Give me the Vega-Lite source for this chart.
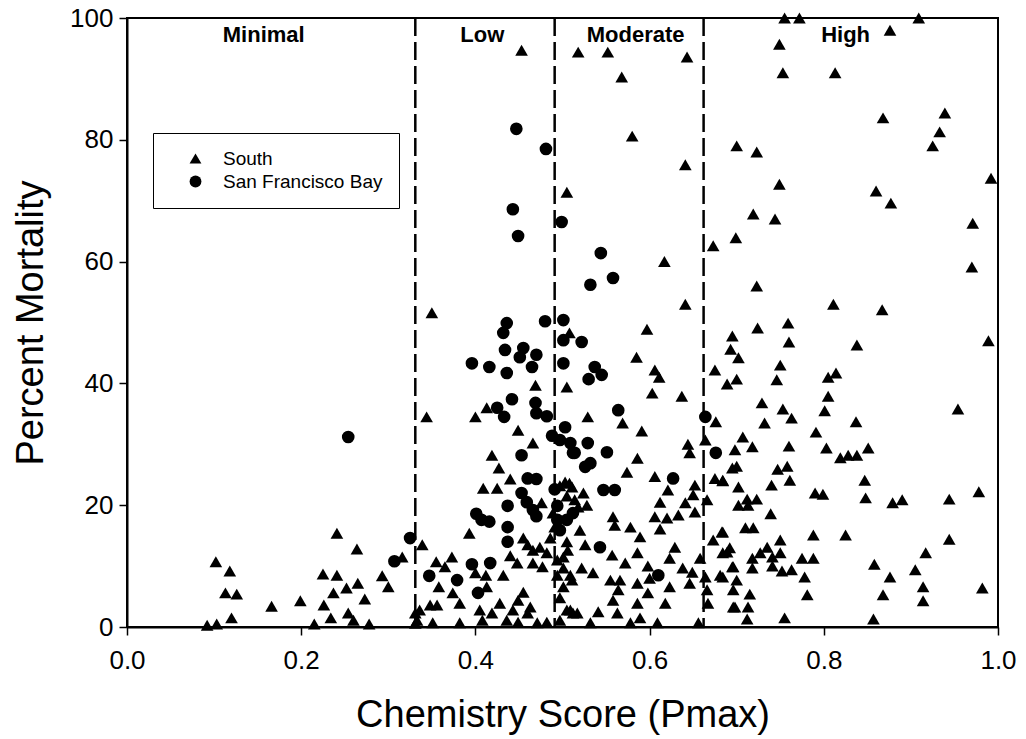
{
"$schema": "https://vega.github.io/schema/vega-lite/v6.json",
"width": 871, "height": 609,
"autosize": {"type": "none"},
"padding": {"left": 127, "top": 18, "right": 28, "bottom": 112},
"background": "white",
"config": {
 "view": {"stroke": "black", "strokeWidth": 2},
 "font": "Liberation Sans",
 "axis": {"grid": false, "domainColor": "black", "domainWidth": 2, "tickColor": "black", "tickWidth": 1.5, "tickSize": 8, "labelFlush": false,
  "labelColor": "black", "titleColor": "black", "labelFontSize": 26, "titleFontSize": 38, "titleFontWeight": "normal",
  "labelFont": "Liberation Sans", "titleFont": "Liberation Sans"},
 "axisX": {"labelPadding": 12, "titlePadding": 23},
 "axisY": {"labelPadding": 6, "titlePadding": 19}
},
"datasets": {
 "cuts": [{"x": 0.331}, {"x": 0.491}, {"x": 0.662}],
 "zones": [{"x": 0.157, "y": 97.2, "label": "Minimal"}, {"x": 0.408, "y": 97.2, "label": "Low"}, {"x": 0.584, "y": 97.2, "label": "Moderate"}, {"x": 0.825, "y": 97.2, "label": "High"}],
 "pts": [
{"x":0.102,"y":10.7,"g":"South"},{"x":0.118,"y":9.2,"g":"South"},{"x":0.113,"y":5.6,"g":"South"},{"x":0.126,"y":5.4,"g":"South"},{"x":0.120,"y":1.5,"g":"South"},{"x":0.092,"y":0.3,"g":"South"},{"x":0.103,"y":0.5,"g":"South"},{"x":0.166,"y":3.4,"g":"South"},{"x":0.199,"y":4.3,"g":"South"},{"x":0.215,"y":0.5,"g":"South"},{"x":0.226,"y":3.6,"g":"South"},{"x":0.234,"y":1.5,"g":"South"},{"x":0.241,"y":15.4,"g":"South"},{"x":0.264,"y":12.8,"g":"South"},{"x":0.225,"y":8.7,"g":"South"},{"x":0.241,"y":8.5,"g":"South"},{"x":0.237,"y":5.6,"g":"South"},{"x":0.252,"y":6.4,"g":"South"},{"x":0.265,"y":7.2,"g":"South"},{"x":0.273,"y":4.6,"g":"South"},{"x":0.254,"y":2.3,"g":"South"},{"x":0.260,"y":1.1,"g":"South"},{"x":0.278,"y":0.5,"g":"South"},{"x":0.293,"y":8.4,"g":"South"},{"x":0.300,"y":6.6,"g":"South"},{"x":0.316,"y":11.5,"g":"South"},{"x":0.331,"y":2.3,"g":"South"},{"x":0.331,"y":0.6,"g":"South"},
{"x":0.254,"y":31.2,"g":"San Francisco Bay"},{"x":0.325,"y":14.6,"g":"San Francisco Bay"},{"x":0.307,"y":10.8,"g":"San Francisco Bay"},
{"x":0.350,"y":51.6,"g":"South"},{"x":0.344,"y":34.5,"g":"South"},{"x":0.508,"y":48.3,"g":"South"},{"x":0.469,"y":39.7,"g":"South"},{"x":0.505,"y":39.4,"g":"South"},{"x":0.413,"y":36.0,"g":"South"},{"x":0.400,"y":34.5,"g":"South"},{"x":0.449,"y":32.3,"g":"South"},{"x":0.466,"y":30.2,"g":"South"},{"x":0.419,"y":28.2,"g":"South"},{"x":0.453,"y":94.7,"g":"South"},{"x":0.505,"y":71.4,"g":"South"},
{"x":0.339,"y":13.5,"g":"South"},{"x":0.427,"y":26.1,"g":"South"},{"x":0.440,"y":24.3,"g":"South"},{"x":0.409,"y":22.8,"g":"South"},{"x":0.425,"y":22.8,"g":"South"},{"x":0.476,"y":20.4,"g":"South"},{"x":0.393,"y":15.4,"g":"South"},{"x":0.455,"y":14.6,"g":"South"},{"x":0.460,"y":13.5,"g":"South"},{"x":0.466,"y":12.6,"g":"South"},{"x":0.440,"y":11.7,"g":"South"},{"x":0.448,"y":10.5,"g":"South"},{"x":0.466,"y":10.5,"g":"South"},{"x":0.355,"y":10.7,"g":"South"},{"x":0.373,"y":11.5,"g":"South"},{"x":0.365,"y":9.9,"g":"South"},{"x":0.358,"y":6.6,"g":"South"},{"x":0.412,"y":8.5,"g":"South"},{"x":0.400,"y":8.9,"g":"South"},{"x":0.432,"y":8.5,"g":"South"},{"x":0.413,"y":6.6,"g":"South"},{"x":0.374,"y":5.6,"g":"South"},{"x":0.382,"y":3.9,"g":"South"},{"x":0.348,"y":3.6,"g":"South"},{"x":0.356,"y":3.6,"g":"South"},{"x":0.336,"y":2.8,"g":"South"},{"x":0.333,"y":1.1,"g":"South"},{"x":0.351,"y":0.7,"g":"South"},{"x":0.382,"y":0.7,"g":"South"},{"x":0.405,"y":2.8,"g":"South"},{"x":0.408,"y":1.1,"g":"South"},{"x":0.419,"y":2.3,"g":"South"},{"x":0.428,"y":3.9,"g":"South"},{"x":0.436,"y":1.1,"g":"South"},{"x":0.443,"y":2.8,"g":"South"},{"x":0.449,"y":4.4,"g":"South"},{"x":0.455,"y":5.7,"g":"South"},{"x":0.449,"y":0.8,"g":"South"},{"x":0.460,"y":2.3,"g":"South"},{"x":0.471,"y":0.7,"g":"South"},{"x":0.463,"y":3.3,"g":"South"},{"x":0.482,"y":0.8,"g":"South"},{"x":0.477,"y":9.9,"g":"South"},{"x":0.482,"y":12.2,"g":"South"},{"x":0.486,"y":14.6,"g":"South"},{"x":0.491,"y":16.4,"g":"South"},{"x":0.489,"y":18.7,"g":"South"},{"x":0.474,"y":13.1,"g":"South"},{"x":0.497,"y":23.2,"g":"South"},{"x":0.508,"y":23.6,"g":"South"},{"x":0.505,"y":21.5,"g":"South"},{"x":0.514,"y":20.9,"g":"South"},{"x":0.494,"y":11.0,"g":"South"},{"x":0.494,"y":8.5,"g":"South"},{"x":0.501,"y":9.7,"g":"South"},{"x":0.506,"y":12.6,"g":"South"},{"x":0.511,"y":7.7,"g":"South"},{"x":0.497,"y":4.8,"g":"South"},{"x":0.505,"y":2.8,"g":"South"},{"x":0.497,"y":1.1,"g":"South"},{"x":0.512,"y":2.3,"g":"South"},
{"x":0.436,"y":49.9,"g":"San Francisco Bay"},{"x":0.432,"y":48.3,"g":"San Francisco Bay"},{"x":0.434,"y":45.5,"g":"San Francisco Bay"},{"x":0.455,"y":45.8,"g":"San Francisco Bay"},{"x":0.451,"y":44.3,"g":"San Francisco Bay"},{"x":0.470,"y":44.7,"g":"San Francisco Bay"},{"x":0.465,"y":42.7,"g":"San Francisco Bay"},{"x":0.396,"y":43.3,"g":"San Francisco Bay"},{"x":0.416,"y":42.7,"g":"San Francisco Bay"},{"x":0.436,"y":41.7,"g":"San Francisco Bay"},{"x":0.480,"y":50.2,"g":"San Francisco Bay"},{"x":0.501,"y":50.4,"g":"San Francisco Bay"},{"x":0.501,"y":47.1,"g":"San Francisco Bay"},{"x":0.501,"y":43.3,"g":"San Francisco Bay"},{"x":0.442,"y":37.4,"g":"San Francisco Bay"},{"x":0.469,"y":36.8,"g":"San Francisco Bay"},{"x":0.470,"y":35.1,"g":"San Francisco Bay"},{"x":0.482,"y":34.6,"g":"San Francisco Bay"},{"x":0.425,"y":36.0,"g":"San Francisco Bay"},{"x":0.433,"y":34.5,"g":"San Francisco Bay"},{"x":0.503,"y":32.8,"g":"San Francisco Bay"},{"x":0.488,"y":31.4,"g":"San Francisco Bay"},{"x":0.497,"y":30.7,"g":"San Francisco Bay"},{"x":0.509,"y":30.2,"g":"San Francisco Bay"},{"x":0.453,"y":28.2,"g":"San Francisco Bay"},{"x":0.512,"y":28.6,"g":"San Francisco Bay"},{"x":0.447,"y":81.8,"g":"San Francisco Bay"},{"x":0.481,"y":78.5,"g":"San Francisco Bay"},{"x":0.443,"y":68.6,"g":"San Francisco Bay"},{"x":0.449,"y":64.2,"g":"San Francisco Bay"},{"x":0.499,"y":66.5,"g":"San Francisco Bay"},
{"x":0.460,"y":24.4,"g":"San Francisco Bay"},{"x":0.470,"y":24.3,"g":"San Francisco Bay"},{"x":0.453,"y":22.0,"g":"San Francisco Bay"},{"x":0.459,"y":20.5,"g":"San Francisco Bay"},{"x":0.466,"y":19.2,"g":"San Francisco Bay"},{"x":0.470,"y":18.2,"g":"San Francisco Bay"},{"x":0.437,"y":19.9,"g":"San Francisco Bay"},{"x":0.401,"y":18.6,"g":"San Francisco Bay"},{"x":0.407,"y":17.6,"g":"San Francisco Bay"},{"x":0.416,"y":17.3,"g":"San Francisco Bay"},{"x":0.437,"y":16.4,"g":"San Francisco Bay"},{"x":0.437,"y":14.0,"g":"San Francisco Bay"},{"x":0.396,"y":10.3,"g":"San Francisco Bay"},{"x":0.417,"y":10.5,"g":"San Francisco Bay"},{"x":0.347,"y":8.4,"g":"San Francisco Bay"},{"x":0.379,"y":7.7,"g":"San Francisco Bay"},{"x":0.403,"y":5.6,"g":"San Francisco Bay"},{"x":0.494,"y":19.9,"g":"San Francisco Bay"},{"x":0.494,"y":17.6,"g":"San Francisco Bay"},{"x":0.491,"y":22.6,"g":"San Francisco Bay"},{"x":0.497,"y":15.9,"g":"San Francisco Bay"},{"x":0.512,"y":18.7,"g":"San Francisco Bay"},
{"x":0.518,"y":94.4,"g":"South"},{"x":0.552,"y":94.4,"g":"South"},{"x":0.643,"y":93.6,"g":"South"},{"x":0.568,"y":90.3,"g":"South"},{"x":0.580,"y":80.6,"g":"South"},{"x":0.641,"y":75.9,"g":"South"},{"x":0.617,"y":60.0,"g":"South"},
{"x":0.641,"y":53.0,"g":"South"},{"x":0.597,"y":48.9,"g":"South"},{"x":0.585,"y":44.3,"g":"South"},{"x":0.606,"y":42.2,"g":"South"},{"x":0.611,"y":41.0,"g":"South"},{"x":0.603,"y":38.4,"g":"South"},{"x":0.637,"y":37.9,"g":"South"},{"x":0.529,"y":34.5,"g":"South"},{"x":0.569,"y":33.5,"g":"South"},{"x":0.591,"y":32.2,"g":"South"},{"x":0.664,"y":30.7,"g":"South"},{"x":0.644,"y":30.0,"g":"South"},{"x":0.646,"y":28.6,"g":"South"},
{"x":0.544,"y":61.4,"g":"San Francisco Bay"},{"x":0.558,"y":57.3,"g":"San Francisco Bay"},{"x":0.532,"y":56.2,"g":"San Francisco Bay"},{"x":0.522,"y":46.8,"g":"San Francisco Bay"},{"x":0.537,"y":42.7,"g":"San Francisco Bay"},{"x":0.545,"y":41.4,"g":"San Francisco Bay"},{"x":0.530,"y":40.7,"g":"San Francisco Bay"},{"x":0.564,"y":35.6,"g":"San Francisco Bay"},{"x":0.664,"y":34.5,"g":"San Francisco Bay"},{"x":0.529,"y":30.2,"g":"San Francisco Bay"},{"x":0.551,"y":28.7,"g":"San Francisco Bay"},{"x":0.514,"y":28.6,"g":"San Francisco Bay"},{"x":0.532,"y":26.9,"g":"San Francisco Bay"},{"x":0.526,"y":26.3,"g":"San Francisco Bay"},{"x":0.547,"y":22.5,"g":"San Francisco Bay"},{"x":0.560,"y":22.5,"g":"San Francisco Bay"},{"x":0.627,"y":24.4,"g":"San Francisco Bay"},{"x":0.543,"y":13.1,"g":"San Francisco Bay"},{"x":0.610,"y":8.5,"g":"San Francisco Bay"},{"x":0.505,"y":17.6,"g":"San Francisco Bay"},{"x":0.676,"y":28.6,"g":"San Francisco Bay"},
{"x":0.586,"y":27.7,"g":"South"},{"x":0.574,"y":25.4,"g":"South"},{"x":0.606,"y":24.7,"g":"South"},{"x":0.621,"y":22.5,"g":"South"},{"x":0.612,"y":20.5,"g":"South"},{"x":0.652,"y":23.3,"g":"South"},{"x":0.650,"y":21.7,"g":"South"},{"x":0.641,"y":20.4,"g":"South"},{"x":0.652,"y":18.9,"g":"South"},{"x":0.666,"y":20.9,"g":"South"},{"x":0.675,"y":24.4,"g":"South"},{"x":0.684,"y":24.1,"g":"South"},{"x":0.503,"y":23.8,"g":"South"},{"x":0.511,"y":23.0,"g":"South"},{"x":0.524,"y":22.0,"g":"South"},{"x":0.518,"y":19.7,"g":"South"},{"x":0.528,"y":20.0,"g":"South"},{"x":0.558,"y":18.1,"g":"South"},{"x":0.560,"y":16.7,"g":"South"},{"x":0.578,"y":16.4,"g":"South"},{"x":0.589,"y":14.8,"g":"South"},{"x":0.606,"y":18.1,"g":"South"},{"x":0.620,"y":17.9,"g":"South"},{"x":0.633,"y":18.4,"g":"South"},{"x":0.612,"y":16.1,"g":"South"},{"x":0.520,"y":15.9,"g":"South"},{"x":0.526,"y":13.5,"g":"South"},{"x":0.505,"y":14.0,"g":"South"},{"x":0.501,"y":11.5,"g":"South"},{"x":0.557,"y":11.8,"g":"South"},{"x":0.572,"y":10.5,"g":"South"},{"x":0.586,"y":12.2,"g":"South"},{"x":0.522,"y":9.7,"g":"South"},{"x":0.535,"y":8.9,"g":"South"},{"x":0.509,"y":8.5,"g":"South"},{"x":0.555,"y":7.7,"g":"South"},{"x":0.566,"y":7.7,"g":"South"},{"x":0.586,"y":7.2,"g":"South"},{"x":0.598,"y":10.0,"g":"South"},{"x":0.600,"y":8.0,"g":"South"},{"x":0.623,"y":11.3,"g":"South"},{"x":0.629,"y":13.1,"g":"South"},{"x":0.638,"y":9.7,"g":"South"},{"x":0.649,"y":9.0,"g":"South"},{"x":0.658,"y":11.3,"g":"South"},{"x":0.664,"y":8.2,"g":"South"},{"x":0.673,"y":14.3,"g":"South"},{"x":0.683,"y":15.6,"g":"South"},{"x":0.689,"y":12.3,"g":"South"},{"x":0.696,"y":9.9,"g":"South"},{"x":0.501,"y":6.6,"g":"South"},{"x":0.509,"y":2.8,"g":"South"},{"x":0.517,"y":2.3,"g":"South"},{"x":0.532,"y":0.7,"g":"South"},{"x":0.541,"y":2.5,"g":"South"},{"x":0.563,"y":2.3,"g":"South"},{"x":0.558,"y":4.4,"g":"South"},{"x":0.564,"y":6.1,"g":"South"},{"x":0.586,"y":3.9,"g":"South"},{"x":0.589,"y":1.5,"g":"South"},{"x":0.578,"y":0.7,"g":"South"},{"x":0.598,"y":5.6,"g":"South"},{"x":0.609,"y":0.7,"g":"South"},{"x":0.618,"y":3.9,"g":"South"},{"x":0.623,"y":6.6,"g":"South"},{"x":0.646,"y":7.2,"g":"South"},{"x":0.656,"y":0.7,"g":"South"},{"x":0.666,"y":6.1,"g":"South"},{"x":0.667,"y":3.9,"g":"South"},{"x":0.681,"y":8.5,"g":"South"},{"x":0.696,"y":3.3,"g":"South"},
{"x":0.755,"y":100,"g":"South"},{"x":0.772,"y":100,"g":"South"},{"x":0.909,"y":100,"g":"South"},{"x":0.876,"y":98.0,"g":"South"},{"x":0.749,"y":95.7,"g":"South"},{"x":0.753,"y":91.0,"g":"South"},{"x":0.813,"y":91.0,"g":"South"},{"x":0.939,"y":84.4,"g":"South"},{"x":0.933,"y":81.3,"g":"South"},{"x":0.868,"y":83.6,"g":"South"},{"x":0.925,"y":79.0,"g":"South"},{"x":0.700,"y":79.0,"g":"South"},{"x":0.723,"y":78.0,"g":"South"},{"x":0.992,"y":73.7,"g":"South"},{"x":0.749,"y":72.7,"g":"South"},{"x":0.860,"y":71.6,"g":"South"},{"x":0.877,"y":69.6,"g":"South"},{"x":0.719,"y":67.8,"g":"South"},{"x":0.744,"y":67.0,"g":"South"},{"x":0.971,"y":66.3,"g":"South"},{"x":0.699,"y":63.9,"g":"South"},{"x":0.673,"y":62.6,"g":"South"},{"x":0.970,"y":59.1,"g":"South"},{"x":0.723,"y":56.0,"g":"South"},
{"x":0.695,"y":47.8,"g":"South"},{"x":0.693,"y":45.6,"g":"South"},{"x":0.702,"y":44.2,"g":"South"},{"x":0.675,"y":42.2,"g":"South"},{"x":0.689,"y":39.9,"g":"South"},{"x":0.700,"y":40.7,"g":"South"},{"x":0.698,"y":29.1,"g":"South"},{"x":0.676,"y":33.7,"g":"South"},
{"x":0.811,"y":53.0,"g":"South"},{"x":0.867,"y":52.1,"g":"South"},{"x":0.759,"y":49.9,"g":"South"},{"x":0.724,"y":49.1,"g":"South"},{"x":0.760,"y":46.8,"g":"South"},{"x":0.838,"y":46.3,"g":"South"},{"x":0.989,"y":47.0,"g":"South"},{"x":0.750,"y":43.0,"g":"South"},{"x":0.814,"y":41.7,"g":"South"},{"x":0.805,"y":41.0,"g":"South"},{"x":0.746,"y":40.6,"g":"South"},{"x":0.805,"y":37.9,"g":"South"},{"x":0.729,"y":36.8,"g":"South"},{"x":0.753,"y":35.8,"g":"South"},{"x":0.801,"y":35.5,"g":"South"},{"x":0.954,"y":35.8,"g":"South"},{"x":0.763,"y":34.3,"g":"South"},{"x":0.732,"y":33.5,"g":"South"},{"x":0.837,"y":33.7,"g":"South"},{"x":0.791,"y":32.0,"g":"South"},{"x":0.707,"y":31.2,"g":"South"},{"x":0.718,"y":29.6,"g":"South"},{"x":0.760,"y":29.7,"g":"South"},{"x":0.803,"y":29.4,"g":"South"},{"x":0.851,"y":29.4,"g":"South"},{"x":0.828,"y":28.2,"g":"South"},{"x":0.838,"y":28.2,"g":"South"},{"x":0.819,"y":27.8,"g":"South"},
{"x":0.695,"y":26.1,"g":"South"},{"x":0.700,"y":26.4,"g":"South"},{"x":0.747,"y":25.9,"g":"South"},{"x":0.758,"y":26.4,"g":"South"},{"x":0.684,"y":24.0,"g":"South"},{"x":0.702,"y":23.0,"g":"South"},{"x":0.740,"y":23.3,"g":"South"},{"x":0.761,"y":24.1,"g":"South"},{"x":0.847,"y":24.1,"g":"South"},{"x":0.790,"y":22.0,"g":"South"},{"x":0.799,"y":21.8,"g":"South"},{"x":0.848,"y":21.2,"g":"South"},{"x":0.879,"y":20.4,"g":"South"},{"x":0.890,"y":20.9,"g":"South"},{"x":0.944,"y":21.0,"g":"South"},{"x":0.978,"y":22.2,"g":"South"},{"x":0.702,"y":20.0,"g":"South"},{"x":0.712,"y":21.0,"g":"South"},{"x":0.723,"y":21.0,"g":"South"},{"x":0.713,"y":20.0,"g":"South"},{"x":0.739,"y":18.6,"g":"South"},{"x":0.710,"y":16.3,"g":"South"},{"x":0.719,"y":16.3,"g":"South"},{"x":0.684,"y":15.6,"g":"South"},{"x":0.788,"y":15.1,"g":"South"},{"x":0.825,"y":15.1,"g":"South"},{"x":0.944,"y":14.4,"g":"South"},{"x":0.692,"y":13.0,"g":"South"},{"x":0.684,"y":12.2,"g":"South"},{"x":0.735,"y":13.1,"g":"South"},{"x":0.750,"y":14.3,"g":"South"},{"x":0.750,"y":12.2,"g":"South"},{"x":0.727,"y":12.2,"g":"South"},{"x":0.718,"y":11.3,"g":"South"},{"x":0.741,"y":11.5,"g":"South"},{"x":0.775,"y":11.3,"g":"South"},{"x":0.788,"y":11.3,"g":"South"},{"x":0.917,"y":12.2,"g":"South"},{"x":0.695,"y":9.9,"g":"South"},{"x":0.718,"y":9.7,"g":"South"},{"x":0.741,"y":10.0,"g":"South"},{"x":0.752,"y":9.2,"g":"South"},{"x":0.763,"y":9.4,"g":"South"},{"x":0.858,"y":10.3,"g":"South"},{"x":0.905,"y":9.4,"g":"South"},{"x":0.684,"y":8.2,"g":"South"},{"x":0.778,"y":8.2,"g":"South"},{"x":0.876,"y":8.2,"g":"South"},{"x":0.700,"y":7.7,"g":"South"},{"x":0.696,"y":6.1,"g":"South"},{"x":0.914,"y":6.6,"g":"South"},{"x":0.982,"y":6.4,"g":"South"},{"x":0.715,"y":5.4,"g":"South"},{"x":0.781,"y":5.3,"g":"South"},{"x":0.868,"y":5.3,"g":"South"},{"x":0.914,"y":4.3,"g":"South"},{"x":0.698,"y":3.3,"g":"South"},{"x":0.713,"y":3.3,"g":"South"},{"x":0.712,"y":1.3,"g":"South"},{"x":0.755,"y":1.5,"g":"South"},{"x":0.857,"y":1.3,"g":"South"}
 ]
},
"layer": [
 {"data": {"name": "pts"},
  "mark": {"type": "point", "filled": true, "color": "black", "opacity": 1, "size": 160},
  "encoding": {
   "x": {"field": "x", "type": "quantitative", "title": "Chemistry Score (Pmax)", "scale": {"domain": [0, 1], "nice": false}, "axis": {"format": ".1f", "values": [0, 0.2, 0.4, 0.6, 0.8, 1.0]}},
   "y": {"field": "y", "type": "quantitative", "title": "Percent Mortality", "scale": {"domain": [0, 100], "nice": false}, "axis": {"values": [0, 20, 40, 60, 80, 100]}},
   "shape": {"field": "g", "type": "nominal", "scale": {"domain": ["South", "San Francisco Bay"], "range": ["triangle-up", "circle"]},
    "legend": {"title": null, "orient": "none", "legendX": 26, "legendY": 115, "padding": 16, "strokeColor": "black", "fillColor": "white",
     "labelFontSize": 19, "labelFont": "Liberation Sans", "labelColor": "black", "symbolSize": 140, "symbolFillColor": "black", "symbolStrokeColor": "black", "symbolOffset": 17, "labelOffset": 18, "rowPadding": 3,
     "encode": {"legend": {"update": {"strokeWidth": {"value": 1.5}}}}}}
  }},
 {"data": {"name": "cuts"},
  "mark": {"type": "rule", "strokeDash": [18, 6], "strokeWidth": 2.5, "color": "black"},
  "encoding": {"x": {"field": "x", "type": "quantitative", "title": "Chemistry Score (Pmax)"}}},
 {"data": {"name": "zones"},
  "mark": {"type": "text", "fontWeight": "bold", "fontSize": 22, "color": "black", "baseline": "middle", "font": "Liberation Sans"},
  "encoding": {"x": {"field": "x", "type": "quantitative", "title": "Chemistry Score (Pmax)"}, "y": {"field": "y", "type": "quantitative", "title": "Percent Mortality"}, "text": {"field": "label"}}}
]
}
